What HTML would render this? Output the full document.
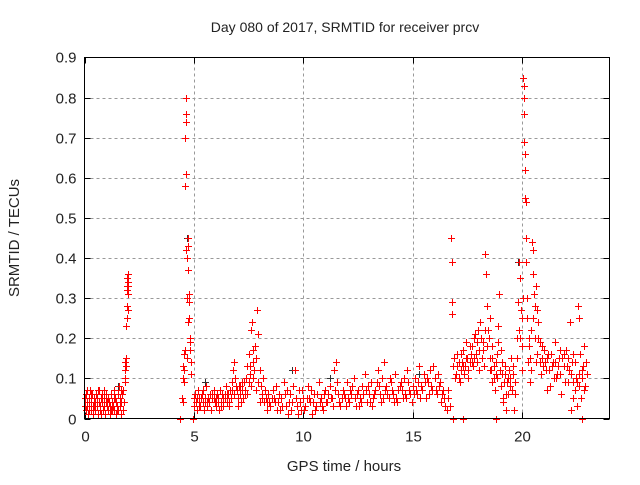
<!DOCTYPE html>
<html><head><meta charset="utf-8"><style>
body{margin:0;background:#fff;}
svg text{font-family:"Liberation Sans",sans-serif;fill:#222;}
</style></head><body>
<svg id="chart" width="640" height="480" xmlns="http://www.w3.org/2000/svg">
<rect width="640" height="480" fill="#fff"/>
<text x="345" y="32" font-size="14" text-anchor="middle">Day 080 of 2017, SRMTID for receiver prcv</text>
<text x="0" y="0" font-size="15" text-anchor="middle" transform="translate(19,238) rotate(-90)">SRMTID / TECUs</text>
<text x="344" y="471" font-size="15" text-anchor="middle">GPS time / hours</text>
<g id="grid"></g><g id="marks"></g>
<rect x="84.5" y="57.5" width="525" height="361" fill="none" stroke="#000" stroke-width="1"/>
</svg>
<script>
const xTicks=[0,5,10,15,20];
const yTicks=[0,0.1,0.2,0.3,0.4,0.5,0.6,0.7,0.8,0.9];
const yTickLabels=["0","0.1","0.2","0.3","0.4","0.5","0.6","0.7","0.8","0.9"];
const redPoints=[[0.02,0.05],[0.05,0.02],[0.08,0.06],[0.1,0.03],[0.13,0.04],[0.16,0.01],[0.19,0.05],[0.22,0.03],[0.25,0.07],[0.28,0.02],[0.31,0.04],[0.34,0.06],[0.37,0.03],[0.4,0.01],[0.43,0.05],[0.46,0.04],[0.49,0.02],[0.52,0.06],[0.55,0.03],[0.58,0.05],[0.61,0.01],[0.64,0.04],[0.67,0.07],[0.7,0.03],[0.73,0.02],[0.76,0.05],[0.79,0.04],[0.82,0.06],[0.85,0.02],[0.88,0.03],[0.91,0.05],[0.94,0.01],[0.97,0.04],[1.0,0.06],[1.03,0.03],[1.06,0.02],[1.09,0.05],[1.12,0.04],[1.15,0.01],[1.18,0.03],[1.21,0.06],[1.24,0.02],[1.27,0.04],[1.3,0.03],[1.33,0.07],[1.36,0.02],[1.39,0.05],[1.42,0.01],[1.45,0.04],[1.48,0.03],[1.51,0.06],[1.54,0.02],[1.57,0.08],[1.6,0.03],[1.63,0.05],[1.66,0.01],[1.69,0.04],[1.72,0.06],[1.75,0.02],[1.78,0.07],
[0.03,0.03],[0.11,0.07],[0.2,0.02],[0.3,0.06],[0.45,0.03],[0.6,0.07],[0.75,0.01],[0.9,0.07],[1.05,0.04],[1.2,0.02],[1.35,0.05],[1.5,0.02],[1.65,0.07],[1.8,0.04],[1.85,0.09],
[1.84,0.12],[1.86,0.14],[1.87,0.1],[1.88,0.15],[1.9,0.13],[1.91,0.23],[1.92,0.25],[1.93,0.28],[1.94,0.33],[1.95,0.35],[1.96,0.32],[1.97,0.34],[1.98,0.31],[1.99,0.36],[2.0,0.33],[2.01,0.27],
[4.45,0.05],[4.5,0.1],[4.52,0.13],[4.55,0.16],[4.57,0.12],[4.6,0.58],[4.61,0.7],[4.62,0.8],[4.63,0.76],[4.64,0.74],[4.65,0.61],[4.66,0.42],[4.68,0.4],[4.7,0.3],[4.72,0.37],[4.73,0.45],[4.74,0.43],[4.76,0.31],[4.78,0.25],[4.8,0.2],[4.82,0.17],[4.84,0.19],[4.86,0.14],[4.88,0.11],[4.58,0.17],[4.53,0.09],[4.48,0.04],[4.7,0.15],[4.75,0.24],[4.79,0.29],
[5.0,0.03],[5.05,0.06],[5.1,0.04],[5.15,0.02],[5.2,0.07],[5.25,0.05],[5.3,0.03],[5.35,0.06],[5.4,0.04],[5.45,0.02],[5.5,0.05],[5.55,0.08],[5.6,0.03],[5.65,0.05],[5.7,0.04],[5.75,0.06],[5.8,0.02],[5.85,0.05],[5.9,0.07],[5.95,0.04],[6.0,0.03],[6.05,0.06],[6.1,0.05],[6.15,0.02],[6.2,0.07],[6.25,0.04],[6.3,0.06],[6.35,0.03],[6.4,0.05],[6.45,0.08],[6.5,0.04],[6.55,0.06],[6.6,0.03],[6.65,0.07],[6.7,0.05],[6.75,0.09],[6.8,0.12],[6.85,0.14],[6.9,0.1],[6.95,0.07],[7.0,0.05],[7.05,0.08],[7.1,0.06],[7.15,0.04],[7.2,0.07],[7.25,0.05],[7.3,0.09],[7.35,0.06],[7.4,0.1],[7.45,0.13],[7.5,0.16],[7.55,0.11],[7.6,0.22],[7.65,0.24],[7.7,0.14],[7.75,0.12],[7.8,0.18],[7.85,0.15],[7.9,0.27],[7.95,0.21],[8.0,0.12],[8.05,0.08],[8.1,0.06],[8.15,0.1],[8.2,0.04],[8.25,0.07],[8.3,0.05],[8.35,0.02],[8.4,0.06],
[5.02,0.05],[5.22,0.03],[5.42,0.07],[5.62,0.04],[5.82,0.06],[6.02,0.05],[6.22,0.03],[6.42,0.06],[6.62,0.04],[6.82,0.06],[7.02,0.03],[7.22,0.09],[7.42,0.06],[7.62,0.08],[7.82,0.07],[8.02,0.04],[7.7,0.17],[7.58,0.13],
[8.5,0.03],[8.6,0.07],[8.7,0.04],[8.8,0.02],[8.9,0.06],[9.0,0.05],[9.1,0.09],[9.2,0.03],[9.3,0.01],[9.4,0.06],[9.5,0.04],[9.6,0.12],[9.7,0.03],[9.8,0.07],[9.9,0.02],[10.0,0.05],[10.1,0.03],[10.2,0.08],[10.3,0.04],[10.4,0.01],[10.5,0.06],[10.6,0.03],[10.7,0.09],[10.8,0.05],[10.9,0.02],[11.0,0.07],[8.55,0.05],[8.75,0.08],[8.95,0.02],[9.15,0.06],[9.35,0.04],[9.55,0.08],[9.75,0.01],[9.95,0.07],[10.15,0.05],[10.35,0.07],[10.55,0.02],[10.75,0.04],[10.95,0.06],
[11.1,0.04],[11.2,0.08],[11.3,0.05],[11.4,0.12],[11.5,0.14],[11.6,0.06],[11.7,0.03],[11.8,0.07],[11.9,0.05],[12.0,0.09],[12.1,0.04],[12.2,0.06],[12.3,0.1],[12.4,0.03],[12.5,0.07],[12.6,0.05],[12.7,0.08],[12.8,0.11],[12.9,0.04],[13.0,0.06],[13.1,0.09],[13.2,0.05],[13.3,0.07],[13.4,0.12],[13.5,0.06],[13.6,0.1],[13.7,0.14],[13.8,0.08],[13.9,0.05],[14.0,0.09],[14.1,0.06],[14.2,0.11],[14.3,0.04],[14.4,0.08],[14.5,0.07],[14.6,0.1],[14.7,0.05],[14.8,0.09],[14.9,0.06],[15.0,0.08],[11.15,0.06],[11.35,0.03],[11.55,0.09],[11.75,0.05],[11.95,0.03],[12.15,0.07],[12.35,0.05],[12.55,0.03],[12.75,0.06],[12.95,0.08],[13.15,0.03],[13.35,0.09],[13.55,0.04],[13.75,0.07],[13.95,0.1],[14.15,0.04],[14.35,0.07],[14.55,0.05],[14.75,0.12],[14.95,0.04],
[15.1,0.1],[15.2,0.06],[15.3,0.13],[15.4,0.08],[15.5,0.11],[15.6,0.05],[15.7,0.09],[15.8,0.12],[15.9,0.07],[16.0,0.1],[16.1,0.06],[16.2,0.08],[16.3,0.04],[16.4,0.07],[16.5,0.03],[16.6,0.05],[15.15,0.07],[15.35,0.05],[15.55,0.09],[15.75,0.06],[15.95,0.13],[16.15,0.11],[16.35,0.06],[16.55,0.02],[16.7,0.03],
[16.75,0.45],[16.78,0.39],[16.8,0.29],[16.82,0.26],[16.85,0.13],[16.9,0.15],[17.0,0.11],[17.1,0.14],[17.2,0.12],[17.3,0.17],[17.4,0.13],[17.5,0.15],[17.6,0.18],[17.7,0.14],[17.8,0.2],[17.9,0.16],[18.0,0.22],[16.95,0.1],[17.05,0.16],[17.15,0.09],[17.25,0.14],[17.35,0.11],[17.45,0.19],[17.55,0.12],[17.65,0.16],[17.75,0.13],[17.85,0.21],[17.95,0.14],[18.05,0.17],
[18.1,0.24],[18.2,0.19],[18.3,0.41],[18.35,0.36],[18.4,0.28],[18.45,0.22],[18.5,0.2],[18.55,0.15],[18.6,0.12],[18.65,0.09],[18.7,0.13],[18.75,0.07],[18.8,0.11],[18.85,0.16],[18.9,0.23],[18.95,0.31],[19.0,0.12],[19.05,0.08],[19.1,0.14],[19.15,0.05],[19.2,0.11],[19.25,0.02],[19.3,0.09],[18.15,0.15],[18.25,0.13],[18.55,0.25],[18.65,0.18],[18.85,0.1],[19.02,0.17],[19.12,0.04],[19.22,0.13],[19.35,0.06],[19.4,0.12],[19.45,0.1],[19.5,0.15],[19.55,0.07],[19.6,0.13],[19.65,0.02],[19.7,0.09],[19.75,0.2],[19.8,0.29],[19.85,0.39],[19.9,0.35],[19.95,0.27],[20.0,0.18],
[20.05,0.85],[20.07,0.83],[20.08,0.8],[20.09,0.76],[20.1,0.69],[20.12,0.66],[20.13,0.62],[20.15,0.55],[20.16,0.54],[20.17,0.45],[20.2,0.39],[20.22,0.3],[20.25,0.25],[20.3,0.2],[20.35,0.15],[20.4,0.22],[20.45,0.44],[20.48,0.42],[20.5,0.36],[20.55,0.31],[20.6,0.28],[20.65,0.33],[20.7,0.27],[20.75,0.24],[20.8,0.19],[20.9,0.15],[21.0,0.17],[20.02,0.25],[20.04,0.3],[19.98,0.12],[20.28,0.14],[20.38,0.09],[20.58,0.2],[20.68,0.16],[20.85,0.11],[20.95,0.13],
[21.1,0.12],[21.2,0.16],[21.3,0.08],[21.4,0.14],[21.5,0.19],[21.6,0.11],[21.7,0.15],[21.8,0.06],[21.9,0.13],[22.0,0.17],[22.1,0.09],[22.2,0.24],[22.3,0.14],[22.4,0.07],[22.5,0.03],[22.6,0.11],[22.7,0.05],[22.8,0.13],[22.9,0.08],[21.15,0.07],[21.35,0.13],[21.55,0.1],[21.75,0.17],[21.95,0.09],[22.15,0.12],[22.35,0.05],[22.45,0.1],[22.55,0.28],[22.6,0.25],[22.65,0.16],[22.75,0.12],[22.85,0.18],[22.95,0.11],[22.25,0.02],[22.35,0.16],
[4.35,0],[4.97,0],[16.85,0],[17.3,0],[18.8,0],[22.75,0]];
const extraPoints=[[8.45,0.04],[8.65,0.05],[8.85,0.04],[9.05,0.03],[9.25,0.07],[9.45,0.02],[9.65,0.05],[9.85,0.04],[10.05,0.02],[10.25,0.05],[10.45,0.04],[10.65,0.06],[10.85,0.03],[11.05,0.04],[11.25,0.05],[11.45,0.07],[11.65,0.04],[11.85,0.06],[12.05,0.05],[12.25,0.08],[12.45,0.06],[12.65,0.04],[12.85,0.07],[13.05,0.04],[13.25,0.06],[13.45,0.08],[13.65,0.05],[13.85,0.06],[14.05,0.07],[14.25,0.05],[14.45,0.09],[14.65,0.06],[14.85,0.07],[15.05,0.06],[15.25,0.09],[15.45,0.07],[15.65,0.1],[15.85,0.08],[16.05,0.07],[16.25,0.09],[16.45,0.05],[16.62,0.07],
[17.02,0.13],[17.12,0.1],[17.22,0.16],[17.32,0.13],[17.42,0.15],[17.52,0.1],[17.62,0.14],[17.72,0.18],[17.82,0.15],[17.92,0.19],[18.02,0.12],[18.12,0.2],[18.22,0.17],[18.32,0.22],[18.42,0.18],[18.52,0.12],[18.62,0.15],[18.72,0.1],[18.82,0.14],[18.92,0.19],[19.07,0.11],[19.17,0.09],[19.27,0.06],[19.37,0.1],[19.47,0.08],[19.57,0.11],[19.67,0.06],[19.77,0.15],[19.87,0.22],[19.93,0.2],
[20.32,0.18],[20.42,0.12],[20.52,0.25],[20.62,0.14],[20.72,0.2],[20.82,0.14],[20.92,0.18],[21.05,0.14],[21.25,0.12],[21.45,0.1],[21.65,0.13],[21.85,0.15],[22.05,0.13],[22.25,0.11],[22.42,0.14],[22.52,0.09],[22.62,0.08],[22.72,0.1],[22.82,0.07],[22.92,0.14],[21.12,0.15],[21.32,0.16],[21.52,0.14],[21.72,0.11],[21.92,0.16],[22.12,0.15],[22.32,0.09],
[5.12,0.05],[5.32,0.05],[5.52,0.04],[5.72,0.06],[5.92,0.05],[6.12,0.04],[6.32,0.05],[6.52,0.06],[6.72,0.07],[6.92,0.08],[7.12,0.08],[7.32,0.07],[7.52,0.09],[7.72,0.1],[7.92,0.09],[8.12,0.05],[8.32,0.04]];
const grayPoints=[[4.7,0.45],[20.06,0.85],[19.82,0.39],[9.5,0.12],[13.7,0.14],[22.6,0.25],[5.5,0.09],[1.55,0.08],[11.2,0.1],[15.3,0.11]];
const X0=84.5,X1=609.5,Y0=418.5,Y1=57.5,XMAX=24,YMAX=0.9;
function sx(v){return X0+(X1-X0)*v/XMAX;}
function sy(v){return Y0-(Y0-Y1)*v/YMAX;}
const NS="http://www.w3.org/2000/svg";
const svg=document.getElementById('chart'),grid=document.getElementById('grid'),marks=document.getElementById('marks');
function mk(tag,attrs,parent){const e=document.createElementNS(NS,tag);for(const k in attrs)e.setAttribute(k,attrs[k]);parent.appendChild(e);return e;}
yTicks.forEach((t,i)=>{const y=Math.round(sy(t))+0.5;
 if(i>0&&i<yTicks.length-1){const g=mk('line',{x1:X0,x2:X1,y1:y,y2:y,stroke:'#999','stroke-dasharray':'3,3'},grid);
 
 }
 mk('line',{x1:X0,x2:X0+6,y1:y,y2:y,stroke:'#000'},grid);mk('line',{x1:X1-6,x2:X1,y1:y,y2:y,stroke:'#000'},grid);
 const tx=mk('text',{x:X0-8,y:y+5,'font-size':15,'text-anchor':'end'},svg);tx.textContent=yTickLabels[i];
 
 });
xTicks.forEach(t=>{const x=Math.round(sx(t))+0.5;
 if(t>0){const g=mk('line',{x1:x,x2:x,y1:Y0,y2:Y1,stroke:'#999','stroke-dasharray':'3,3'},grid);
 
 }
 mk('line',{x1:x,x2:x,y1:Y0,y2:Y0-6,stroke:'#000'},grid);mk('line',{x1:x,x2:x,y1:Y1,y2:Y1+6,stroke:'#000'},grid);
 const tx=mk('text',{x:x,y:Y0+23,'font-size':15,'text-anchor':'middle'},svg);tx.textContent=String(t);
 
 });
function plus(p,color,name){const x=Math.round(sx(p[0]))+0.5,y=Math.round(sy(p[1]))+0.5;
 const d=`M${x-3.5} ${y}H${x+3.5}M${x} ${y-3.5}V${y+3.5}`;
 const e=mk('path',{d:d,stroke:color,'stroke-width':1,fill:'none'},marks);
 
 }
grayPoints.forEach(p=>plus(p,'#333','gray-point'));
redPoints.forEach(p=>plus(p,'#f00','red-point'));
extraPoints.forEach(p=>plus(p,'#f00','red-point'));
</script>
</body></html>
